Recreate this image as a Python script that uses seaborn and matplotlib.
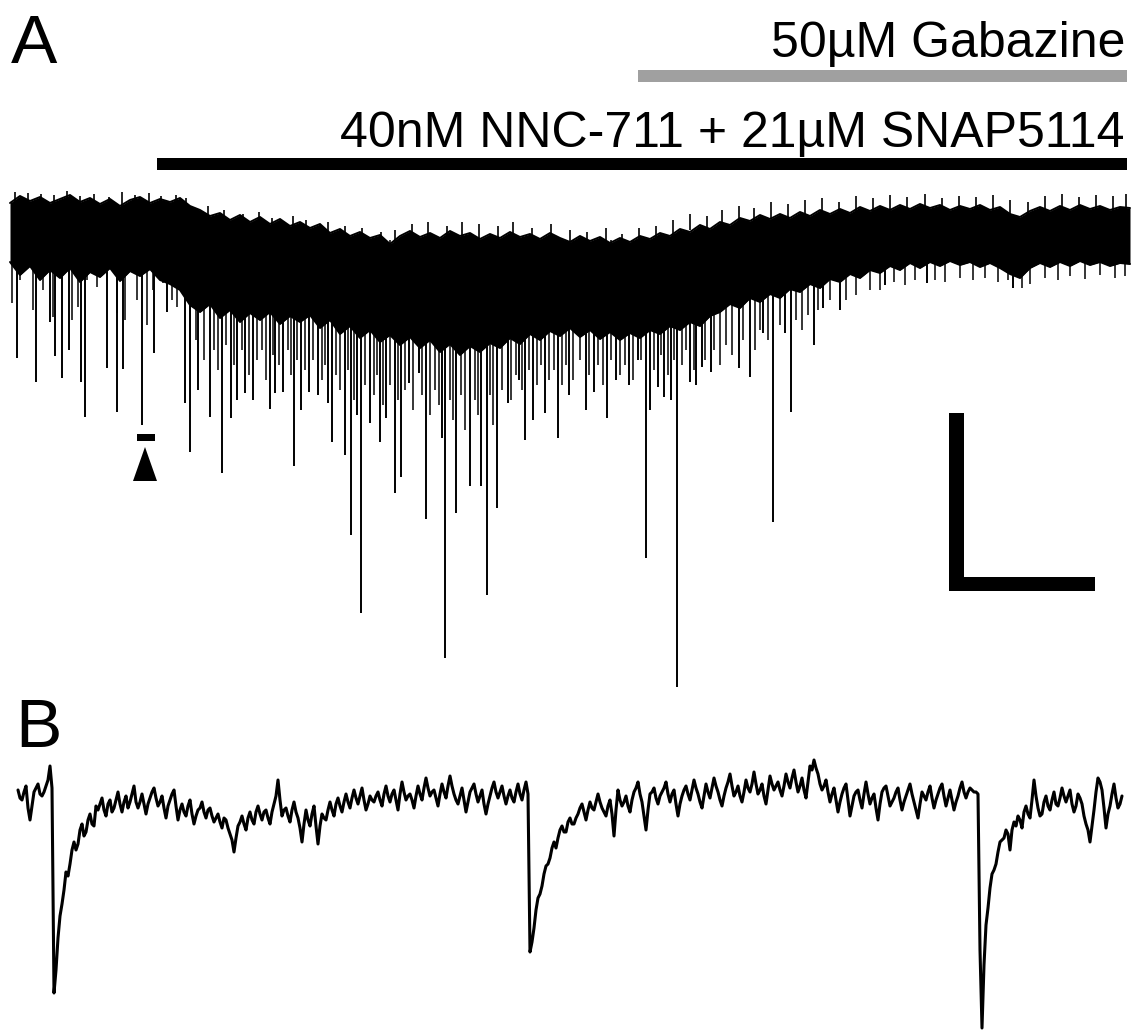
import numpy as np
import matplotlib
matplotlib.use("Agg")
import matplotlib.pyplot as plt
import seaborn as sns

sns.set_theme(style="white")
plt.rcParams['font.family'] = ['Liberation Sans', 'DejaVu Sans']
plt.rcParams['text.color'] = 'black'

# ---------------- Panel A data (time in s, current in pA) ----------------
# envelope of the dense baseline trace, sampled every 10 s
a_top = [-3, 4, -1, 3, -3, 1, 5, -2, 2, -4,
         1, -6, 0, 3, -3, 1, -2, 2, -6, -10,
         -16, -13, -20, -15, -22, -17, -24, -19, -26, -22,
         -28, -24, -33, -29, -36, -32, -38, -35, -44, -36,
         -31, -37, -33, -38, -31, -36, -33, -39, -34, -38,
         -32, -37, -34, -39, -33, -38, -42, -36, -41, -37,
         -43, -38, -42, -36, -39, -33, -36, -29, -32, -25,
         -29, -22, -25, -18, -21, -15, -19, -14, -18, -12,
         -16, -10, -14, -9, -13, -7, -11, -6, -10, -5,
         -9, -4, -8, -5, -10, -6, -9, -5, -10, -7,
         -14, -17, -11, -7, -11, -6, -10, -5, -9, -6,
         -10, -7, -8]
a_bottom = [-62, -75, -66, -80, -70, -78, -68, -82, -72, -77,
            -68, -81, -71, -76, -69, -80, -84, -90, -105, -112,
            -104, -118, -110, -122, -113, -120, -112, -124, -116, -122,
            -115, -128, -120, -134, -126, -138, -130, -142, -135, -145,
            -137, -148, -140, -152, -144, -155, -146, -152, -143, -148,
            -138, -144, -134, -140, -131, -136, -128, -137, -130, -139,
            -132, -140, -133, -138, -130, -134, -126, -130, -122, -126,
            -116, -112, -104, -108, -98, -102, -94, -98, -89, -92,
            -84, -88, -79, -82, -74, -78, -70, -73, -66, -70,
            -63, -68, -62, -66, -61, -65, -62, -67, -63, -68,
            -74, -78, -68, -63, -67, -62, -66, -61, -65, -62,
            -66, -63, -64]
a_time = np.arange(len(a_top)) * 10.0

# large events (time, peak current)
spike_t = [7, 26, 40, 45, 52, 59, 71, 75, 97, 107, 113, 132, 144, 157,
           175, 180, 188, 200, 212, 221, 227, 235, 243, 260, 265, 273, 284,
           291, 299, 308, 318, 322, 335, 341, 347, 351, 360, 370, 376, 385,
           391, 399, 409, 416, 432, 435, 446, 460, 471, 477, 487, 498, 509,
           515, 523, 535, 548, 559, 576, 584, 597, 606, 619, 628, 636, 640,
           648, 654, 661, 667, 680, 686, 692, 701, 729, 740, 753, 763, 775,
           781, 804, 813, 830, 875, 917, 1003]
spike_I = [-158, -182, -122, -156, -178, -150, -182, -217, -168, -212, -169,
           -225, -153, -112, -203, -252, -190, -217, -273, -218, -200, -193,
           -200, -209, -193, -192, -266, -210, -192, -195, -203, -242, -255,
           -335, -215, -413, -223, -242, -218, -293, -277, -183, -173, -319,
           -238, -458, -313, -286, -286, -395, -308, -203, -180, -240, -220,
           -213, -238, -195, -210, -192, -218, -180, -185, -160, -358, -210,
           -187, -197, -200, -487, -182, -185, -167, -172, -168, -177, -133,
           -322, -133, -212, -145, -108, -110, -85, -83, -88]

# small events just below the noise band
minor_t = [2, 10, 23, 33, 43, 62, 68, 77, 87, 107, 115, 127, 137, 143, 153,
           162, 167, 180, 186, 194, 204, 208, 216, 224, 232, 239, 247, 252,
           256, 263, 269, 278, 281, 287, 295, 303, 312, 315, 326, 330, 338,
           344, 355, 364, 367, 373, 380, 388, 395, 403, 412, 420, 425, 429,
           440, 443, 451, 455, 465, 468, 480, 483, 492, 501, 506, 512, 519,
           527, 531, 539, 544, 552, 556, 563, 570, 579, 588, 593, 601, 610,
           615, 623, 631, 644, 651, 658, 664, 672, 676, 684, 695, 704, 710,
           716, 722, 733, 745, 750, 758, 770, 786, 792, 798, 808, 820, 836,
           846, 860, 870, 884, 895, 905, 925, 935, 950, 963, 975, 988, 998,
           1012, 1020, 1035, 1048, 1060, 1075, 1090, 1105, 1115]
minor_I = [-103, -80, -110, -90, -117, -120, -107, -80, -87, -113, -120, -100,
           -125, -90, -83, -100, -107, -150, -140, -160, -150, -170, -145,
           -165, -150, -175, -160, -150, -180, -155, -165, -150, -175, -160,
           -170, -160, -180, -165, -175, -190, -170, -200, -185, -195, -175,
           -205, -185, -200, -190, -210, -195, -215, -190, -205, -200, -220,
           -195, -230, -200, -215, -195, -225, -190, -200, -175, -190, -170,
           -185, -165, -180, -170, -185, -165, -180, -160, -175, -165, -185,
           -160, -175, -165, -180, -160, -170, -155, -175, -160, -165, -150,
           -170, -160, -150, -165, -145, -155, -140, -150, -130, -140, -125,
           -120, -130, -115, -110, -100, -100, -95, -90, -90, -82, -85, -80,
           -80, -82, -78, -80, -78, -82, -80, -88, -84, -78, -80, -76, -79,
           -75, -78, -76]

# upward noise excursions on top of the band (time, peak)
up_t = [5, 18, 31, 44, 57, 70, 84, 99, 112, 125, 139, 151, 166, 176, 198,
        214, 233, 249, 262, 283, 296, 318, 335, 352, 371, 385, 402, 418, 437,
        452, 469, 488, 503, 522, 541, 560, 577, 596, 612, 629, 646, 663, 680,
        697, 712, 729, 744, 761, 778, 795, 812, 829, 846, 863, 880, 897, 915,
        932, 949, 966, 983, 1000, 1018, 1035, 1052, 1069, 1086, 1103, 1116]
up_I = [8, 7, 6, 5, 9, 4, 6, 3, 8, 5, 7, 4, 5, 2, -6, -10, -14, -12, -18,
        -16, -20, -22, -26, -28, -32, -30, -24, -22, -26, -22, -24, -26, -22,
        -28, -24, -30, -32, -28, -34, -28, -26, -20, -14, -16, -10, -6, -8,
        -2, -4, 0, 2, -2, 4, 2, 5, 3, 6, 2, 4, 3, 5, 0, -2, 4, 6, 3, 5, 4, 6]

# drug application bars (start, end in s)
nnc_bar = [147, 1117]
gbz_bar = [628, 1117]

# ---------------- Panel B data (time in ms, current in pA) ----------------
# samples every 4 ms
b_current = [10, 0, 14, -20, 8, 16, 4, 14, 34, -193,
             -138, -104, -72, -64, -42, -44, -24, -32, -14, -26,
             -10, 2, -16, 0, -8, 8, -12, 4, -2, 14,
             -8, 6, -14, 2, 12, -6, 4, -18, 0, 10,
             -20, -4, -16, 0, -24, -10, -2, -18, -8, -22,
             -14, -28, -20, -34, -52, -26, -16, -30, -12, -24,
             -6, -20, -10, -24, -4, 20, -16, -8, -22, -2,
             -18, -42, -10, -26, -6, -44, -14, -20, -2, -16,
             2, -12, 6, -8, 10, -4, 12, -10, 4, -2,
             8, -6, 14, -2, 10, -10, 18, 0, 6, -8,
             14, 0, 22, 4, 10, -6, 16, 2, 24, 6,
             -4, 12, -12, 8, 16, -2, 10, -14, 4, 18,
             2, 14, -4, 10, -2, 16, 0, 18, -152, -128,
             -98, -86, -66, -58, -42, -38, -26, -32, -18, -24,
             -14, -4, -20, -2, -10, 6, -8, -16, 0, -36,
             10, -6, 4, -12, 8, 18, -2, -30, 6, 12,
             -4, 8, 18, -2, 10, -16, 4, 14, 0, 20,
             6, -8, 16, 2, 22, 8, -6, 12, 26, 4,
             14, -2, 20, 8, 28, 6, 16, -4, 24, 10,
             18, 4, 26, 12, 30, 8, 22, 2, 34, 40,
             26, 10, 20, -2, 12, -12, 6, 16, -16, 4,
             10, -8, 18, -4, 6, -20, 8, 14, -6, 2,
             12, -10, 4, 16, -2, -18, 8, 0, 14, -8,
             6, 16, -6, 10, -10, 4, 18, 2, 12, 8,
             6, -228, -125, -88, -70, -52, -40, -30, -50, -22,
             -16, -28, -6, -18, 20, -8, -14, 4, -10, 8,
             -6, 12, -2, 10, -12, 6, -4, -24, -42, -10,
             22, 10, -28, -6, 16, -8, 4]
# samples half-way between the ones above (t + 2 ms)
b_current_mid = [2, 8, -8, -6, 12, 6, 8, 20, 12, -170,
                 -116, -90, -76, -50, -50, -30, -36, -20, -24, -6,
                 -4, -10, -4, -12, 0, -4, -2, -8, 6, -2,
                 -2, -4, -4, 8, 2, -2, -8, -6, 6, -6,
                 -10, -12, -6, -14, -16, -8, -12, -10, -16, -18,
                 -22, -18, -28, -40, -38, -22, -24, -18, -20, -12,
                 -14, -12, -18, -12, 4, 0, -10, -16, -10, -12,
                 -28, -24, -20, -14, -26, -26, -18, -10, -10, -4,
                 -6, -2, -2, 2, 2, 4, 0, -4, 0, 4,
                 0, 6, 4, 6, 0, 6, 8, 4, 0, 4,
                 6, 12, 12, 8, 2, 6, 8, 14, 14, 0,
                 4, 0, -2, 12, 6, 4, -4, -4, 12, 8,
                 8, 4, 4, 2, 8, 6, 10, 6, -142, -110,
                 -94, -74, -64, -48, -48, -30, -32, -22, -24, -18,
                 -8, -12, -10, -8, -2, -2, -12, -6, -14, -10,
                 0, -2, -6, 0, 12, 6, -16, -10, 8, 2,
                 4, 12, 6, 6, -4, -4, 10, 6, 10, 12,
                 -2, 4, 8, 12, 14, 0, 4, 18, 14, 8,
                 4, 8, 12, 16, 16, 10, 4, 10, 16, 14,
                 10, 14, 18, 22, 18, 14, 10, 18, 30, 32,
                 16, 14, 8, 6, 0, -2, 12, 0, -6, 8,
                 0, 6, 6, 2, -8, -4, 12, 4, -2, 8,
                 0, -2, 10, 6, -10, -4, 4, 8, 2, 0,
                 12, 4, 2, 0, -2, 12, 8, 8, 10, 8,
                 -150, -165, -108, -74, -64, -42, -38, -34, -30, -26,
                 -20, -12, -14, 0, 4, -16, -2, -6, 0, -4,
                 2, 4, 4, -4, -6, 2, -16, -30, -26, 8,
                 18, -8, -14, 6, 2, -4]
b_t_main = np.arange(len(b_current)) * 4.0
b_t_mid = b_t_main[:-1] + 2.0
order = np.argsort(np.concatenate([b_t_main, b_t_mid]), kind="stable")
b_time = np.concatenate([b_t_main, b_t_mid])[order]
b_trace = np.concatenate([b_current, b_current_mid])[order]

# ---------------- Figure ----------------
W, H = 1140, 1032
fig = plt.figure(figsize=(W / 100, H / 100), dpi=100)
fig.patch.set_facecolor("white")

axA = fig.add_axes([0, 0, 1, 1])
axA.set_xlim(-10, W - 10)
axA.set_ylim(200 - H, 200)
axA.axis("off")
axA.patch.set_alpha(0)

axB = fig.add_axes([0, 0, 1, 1])
axB.set_xlim(-18, W - 18)
axB.set_ylim(800 - H, 800)
axB.axis("off")
axB.patch.set_alpha(0)

# Panel A trace
axA.fill_between(a_time, a_bottom, a_top, color="black", lw=0)
sns.lineplot(x=a_time, y=a_top, ax=axA, color="black", lw=1.4)
sns.lineplot(x=a_time, y=a_bottom, ax=axA, color="black", lw=1.4)
axA.vlines(minor_t, -40, minor_I, color="black", lw=1.1)
axA.vlines(up_t, np.array(up_I) - 16, up_I, color="black", lw=1.2)
axA.vlines(spike_t, -60, spike_I, color="black", lw=1.4)

# drug bars
axA.fill_between(nnc_bar, 30, 42, color="black", lw=0)
axA.fill_between(gbz_bar, 118, 130, color="#a0a0a0", lw=0)

# marker under the example event
axA.fill([123, 147, 135], [-281, -281, -247], color="black", lw=0)
axA.fill_between([127, 145], -241, -234, color="black", lw=0)

# scale bar
axA.fill_between([939, 954], -391, -213, color="black", lw=0)
axA.fill_between([939, 1085], -391, -377, color="black", lw=0)

# Panel B trace
sns.lineplot(x=b_time, y=b_trace, ax=axB, color="black", lw=2.2, sort=False)

# texts
fig.text(11 / W, 1 - 63 / H, "A", fontsize=50, ha="left", va="baseline",
         color="black")
fig.text(15 / W, 1 - 747 / H, "B", fontsize=50, ha="left", va="baseline",
         color="black")
fig.text(1125 / W, 1 - 57 / H, "50\u00b5M Gabazine", fontsize=36,
         ha="right", va="baseline", color="black")
fig.text(1125 / W, 1 - 147 / H, "40nM NNC-711 + 21\u00b5M SNAP5114",
         fontsize=36, ha="right", va="baseline", color="black")

fig.savefig("out.png", dpi=100, facecolor="white")
